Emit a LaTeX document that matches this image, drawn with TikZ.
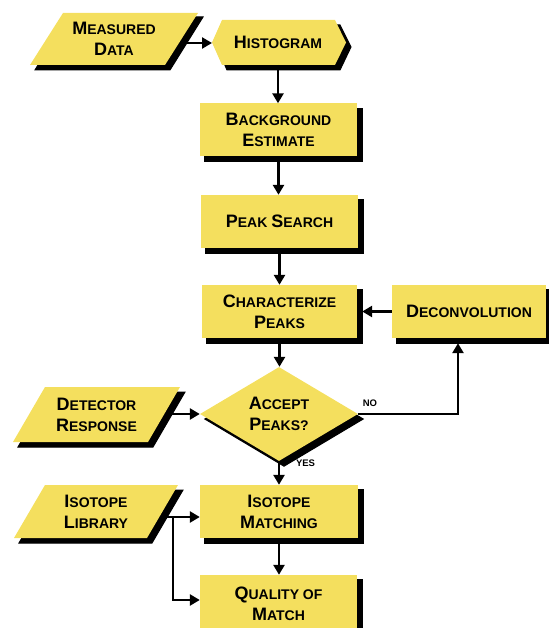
\documentclass[tikz,border=0pt]{standalone}
\usepackage{fontspec}
\setmainfont{Liberation Sans}
\usetikzlibrary{arrows.meta,shapes.geometric,backgrounds}
\definecolor{boxyellow}{RGB}{244,223,94}
\definecolor{shadowcol}{RGB}{0,0,0}
\newcommand\Cap[1]{{\fontsize{18bp}{21bp}\selectfont #1}}
\tikzset{
  body/.style={fill=boxyellow},
  shadowfill/.style={fill=shadowcol,draw=shadowcol,line width=1bp},
  lbl/.style={font=\bfseries\fontsize{14bp}{21bp}\selectfont,align=center,inner sep=0pt},
  box/.style={body,lbl,rectangle,minimum width=157bp,minimum height=53bp},
  decide/.style={body,lbl,diamond,minimum width=158bp,minimum height=72bp},
  small/.style={font=\bfseries\fontsize{9.5bp}{10bp}\selectfont,inner sep=0pt},
  arr/.style={line width=2.8bp,-{Triangle[length=10bp,width=11bp]}}
}
\begin{document}
\begin{tikzpicture}[x=1bp,y=-1bp]
\useasboundingbox (0,0) rectangle (549,628);
% Measured Data (parallelogram)
\filldraw[shadowfill] (67,17) -- (203,17) -- (170,70) -- (35,70) -- cycle;
\fill[body] (63,13) -- (198,13) -- (165,65) -- (30,65) -- cycle;
\node[lbl] (md) at (114,39) {\Cap{M}EASURED\\\Cap{D}ATA};
\coordinate (mdR) at (181,43);
% Histogram
\filldraw[shadowfill] (217,47) -- (227,25) -- (340,25) -- (351,47) -- (340,70) -- (227,70) -- cycle;
\fill[body] (212,42.5) -- (222,20) -- (335,20) -- (346,42.5) -- (335,65) -- (222,65) -- cycle;
\node[lbl] (hist) at (278,42.5) {\Cap{H}ISTOGRAM};
\coordinate (histL) at (212,43);
\coordinate (histB) at (278,65);
% Detector Response
\filldraw[shadowfill] (50,392) -- (185,392) -- (153,447) -- (18,447) -- cycle;
\fill[body] (45,387) -- (180,387) -- (148,442) -- (13,442) -- cycle;
\node[lbl] (dr) at (96.5,414.5) {\Cap{D}ETECTOR\\\Cap{R}ESPONSE};
\coordinate (drR) at (168,414);
% Isotope Library
\filldraw[shadowfill] (50,490) -- (183,490) -- (152,543) -- (19,543) -- cycle;
\fill[body] (45,485) -- (178,485) -- (147,538) -- (14,538) -- cycle;
\node[lbl] (il) at (96,511.5) {\Cap{I}SOTOPE\\\Cap{L}IBRARY};
\coordinate (ilR) at (162,517);
\coordinate (branch) at (173,517);
% boxes
\node[box] (bg) at (278.5,130) {\Cap{B}ACKGROUND\\\Cap{E}STIMATE};
\node[box] (ps) at (279.5,221.5) {\Cap{P}EAK \Cap{S}EARCH};
\node[box,minimum width=155bp] (cp) at (279.5,311.5) {\Cap{C}HARACTERIZE\\\Cap{P}EAKS};
\node[box,minimum width=154bp] (dc) at (469,311.5) {\Cap{D}ECONVOLUTION};
\node[decide] (acc) at (279,414) {\Cap{A}CCEPT\\\Cap{P}EAKS?};
\node[box,minimum width=158bp] (im) at (279,511.5) {\Cap{I}SOTOPE\\\Cap{M}ATCHING};
\node[box,minimum height=57bp] (qm) at (278.5,603.5) {\Cap{Q}UALITY OF\\\Cap{M}ATCH};
% node shadows
\begin{scope}[on background layer]
  \foreach \n in {bg,ps,cp,dc,im,qm}
    \filldraw[shadowfill] ([xshift=5bp,yshift=-5bp]\n.south west) rectangle ([xshift=5bp,yshift=-5bp]\n.north east);
  \filldraw[shadowfill] ([xshift=5bp,yshift=-5bp]acc.north) -- ([xshift=5bp,yshift=-5bp]acc.east)
     -- ([xshift=5bp,yshift=-5bp]acc.south) -- ([xshift=5bp,yshift=-5bp]acc.west) -- cycle;
\end{scope}
% connectors
\draw[arr] (mdR) -- (histL);
\draw[arr] (histB) -- (histB |- bg.north);
\draw[arr] (bg.south) -- (bg.south |- ps.north);
\draw[arr] (ps.south) -- (ps.south |- cp.north);
\draw[arr] (cp.south) -- (cp.south |- acc.north);
\draw[arr] (dc.west) -- ([xshift=5bp]cp.east);
\draw[arr] (acc.east) -| ([xshift=-11bp,yshift=-5bp]dc.south);
\draw[arr] (acc.south) -- (acc.south |- im.north);
\draw[arr] (drR) -- (acc.west);
\draw[arr] (ilR) -- (ilR -| im.west);
\draw[arr] (branch) |- ([yshift=3.5bp]qm.west);
\draw[arr] (im.south) -- (im.south |- qm.north);
% labels
\node[small] (no) at (370,403) {NO};
\node[small] (yes) at (305.5,463.5) {YES};
\end{tikzpicture}
\end{document}
